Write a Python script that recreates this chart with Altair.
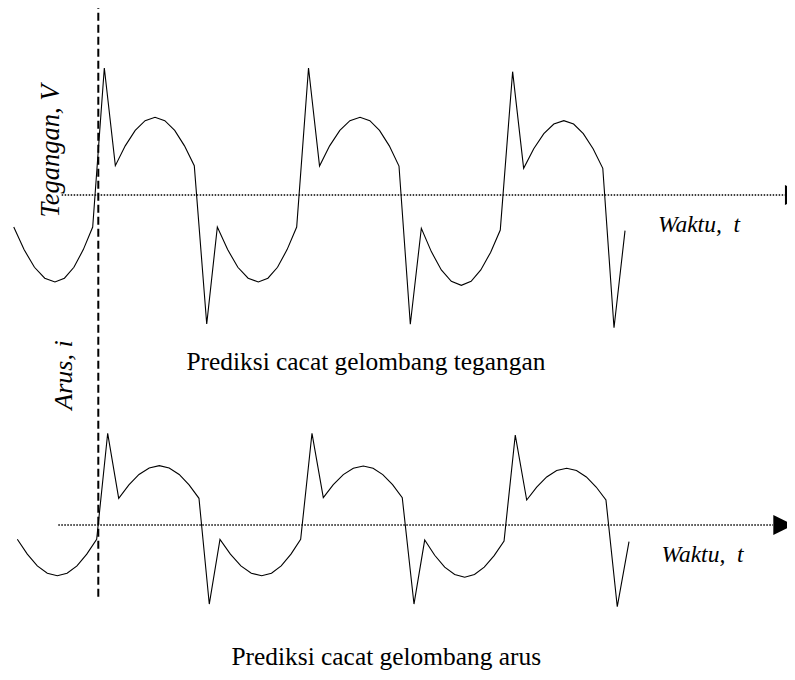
import altair as alt
import pandas as pd

# ---- data (time in ms, values in per-unit) ----
top_t = [-8.29, -7.28, -6.26, -5.25, -4.25, -3.32, -2.39, -1.47, -0.55,
         0.59, 1.67,
         2.64, 3.62, 4.59, 5.56, 6.52, 7.49, 8.45, 9.41,
         10.63, 11.67,
         12.68, 13.68, 14.69, 15.69, 16.63, 17.57, 18.51, 19.45,
         20.61, 21.69,
         22.68, 23.68, 24.67, 25.66, 26.62, 27.57, 28.53, 29.48,
         30.59, 31.67,
         32.65, 33.63, 34.61, 35.59, 36.55, 37.50, 38.46, 39.41,
         40.62, 41.70,
         42.69, 43.68, 44.66, 45.64, 46.60, 47.55, 48.51, 49.46,
         50.56, 51.64]
top_v = [-0.252, -0.430, -0.569, -0.655, -0.685, -0.655, -0.569, -0.430, -0.252,
         1.00, 0.231,
         0.387, 0.509, 0.585, 0.612, 0.585, 0.509, 0.387, 0.231,
         -1.016, -0.252,
         -0.430, -0.569, -0.655, -0.685, -0.655, -0.569, -0.430, -0.252,
         1.00, 0.228,
         0.387, 0.509, 0.585, 0.612, 0.585, 0.509, 0.387, 0.228,
         -1.018, -0.262,
         -0.446, -0.590, -0.680, -0.711, -0.680, -0.590, -0.452, -0.276,
         0.971, 0.210,
         0.364, 0.483, 0.559, 0.585, 0.559, 0.483, 0.364, 0.210,
         -1.045, -0.281]

bot_t = [-7.94, -6.96, -5.98, -5.00, -4.02, -3.06, -2.09, -1.13, -0.16,
         0.92, 2.00,
         3.00, 3.99, 4.99, 5.98, 6.95, 7.93, 8.90, 9.87,
         10.88, 11.93,
         12.95, 13.98, 15.00, 16.02, 16.98, 17.93, 18.89, 19.84,
         20.95, 22.06,
         23.04, 24.02, 25.00, 25.98, 26.94, 27.89, 28.85, 29.80,
         30.95, 32.00,
         32.98, 33.96, 34.94, 35.92, 36.88, 37.84, 38.81, 39.78,
         40.88, 42.00,
         42.98, 43.96, 44.94, 45.92, 46.88, 47.85, 48.81, 49.77,
         50.88, 52.03]
bot_v = [-0.156, -0.318, -0.446, -0.526, -0.553, -0.526, -0.446, -0.318, -0.156,
         1.00, 0.291,
         0.437, 0.551, 0.622, 0.647, 0.622, 0.551, 0.437, 0.291,
         -0.862, -0.156,
         -0.318, -0.446, -0.526, -0.553, -0.526, -0.446, -0.318, -0.156,
         1.00, 0.298,
         0.440, 0.550, 0.619, 0.643, 0.619, 0.550, 0.440, 0.298,
         -0.862, -0.164,
         -0.330, -0.460, -0.539, -0.570, -0.539, -0.460, -0.334, -0.174,
         0.981, 0.273,
         0.414, 0.524, 0.594, 0.618, 0.594, 0.524, 0.414, 0.273,
         -0.891, -0.182]

# time-axis extents (dotted baseline) and arrow positions
top_axis = {"t0": [-3.59], "t1": [67.32], "v": [0.0]}
bot_axis = {"t0": [-3.92], "t1": [66.15], "v": [0.0]}
top_arrow = {"t": [68.30], "v": [0.0]}
bot_arrow = {"t": [67.16], "v": [0.0]}
marker = {"t": [0.0], "v0": [1.53], "v1": [-3.173]}

title_top = "Prediksi cacat gelombang tegangan"
title_bot = "Prediksi cacat gelombang arus"
ylab_top = "Tegangan, V"
ylab_bot = "Arus, i"
xlab = "Waktu,\u00a0 t"

# ---- chart ----
W, H = 779, 664
FONT = "Liberation Serif"
xs = alt.Scale(domain=[-8.853, 67.520], nice=False, zero=False)
ys_top = alt.Scale(domain=[-3.756, 1.4724], nice=False, zero=False)
ys_bot = alt.Scale(domain=[-1.603, 5.638], nice=False, zero=False)

top_df = pd.DataFrame({"t": top_t, "v": top_v, "i": range(len(top_t))})
bot_df = pd.DataFrame({"t": bot_t, "v": bot_v, "i": range(len(bot_t))})

arrow_path = "M-1,-1L1,0L-1,1Z"


def wave(df, ys):
    return alt.Chart(df).mark_line(color="black", strokeWidth=1.1, clip=False).encode(
        x=alt.X("t:Q", scale=xs, axis=None),
        y=alt.Y("v:Q", scale=ys, axis=None),
        order="i:Q",
    )


def baseline(d, ys):
    return alt.Chart(pd.DataFrame(d)).mark_rule(
        color="black", strokeWidth=1.4, strokeDash=[1.5, 1.5]
    ).encode(
        x=alt.X("t0:Q", scale=xs, axis=None),
        x2="t1:Q",
        y=alt.Y("v:Q", scale=ys, axis=None),
    )


def arrow(d, ys):
    return alt.Chart(pd.DataFrame(d)).mark_point(
        shape=arrow_path, filled=True, size=400, color="black", opacity=1, clip=False
    ).encode(
        x=alt.X("t:Q", scale=xs, axis=None),
        y=alt.Y("v:Q", scale=ys, axis=None),
    )


dash = alt.Chart(pd.DataFrame(marker)).mark_rule(
    color="black", strokeWidth=2, strokeDash=[8, 4]
).encode(
    x=alt.X("t:Q", scale=xs, axis=None),
    y=alt.Y("v0:Q", scale=ys_top, axis=None),
    y2="v1:Q",
)

one = pd.DataFrame({"k": [0]})


def label(text, x, y, size=25, italic=False, angle=0, align="left"):
    kw = dict(font=FONT, fontSize=size, color="black", align=align, baseline="alphabetic")
    if italic:
        kw["fontStyle"] = "italic"
    if angle:
        kw["angle"] = angle
    return alt.Chart(one).mark_text(**kw).encode(
        x=alt.value(x), y=alt.value(y), text=alt.value(text)
    )


chart = alt.layer(
    dash,
    baseline(top_axis, ys_top),
    arrow(top_arrow, ys_top),
    wave(top_df, ys_top),
    baseline(bot_axis, ys_bot),
    arrow(bot_arrow, ys_bot),
    wave(bot_df, ys_bot),
    label(ylab_top, 51, 143, size=26.5, italic=True, angle=270, align="center"),
    label(ylab_bot, 63.5, 367, size=26, italic=True, angle=270, align="center"),
    label(title_top, 178.5, 362, size=25.4),
    label(title_bot, 223.5, 657, size=25.4),
    label(xlab, 650, 223.5, size=23.5, italic=True),
    label(xlab, 653.5, 553.5, size=23.5, italic=True),
).resolve_scale(y="independent").properties(
    width=W, height=H, padding=0,
    autosize=alt.AutoSizeParams(type="none"),
    background="white",
).configure_view(stroke=None)

chart.save("out.html", embed_options={"renderer": "svg", "actions": False})
